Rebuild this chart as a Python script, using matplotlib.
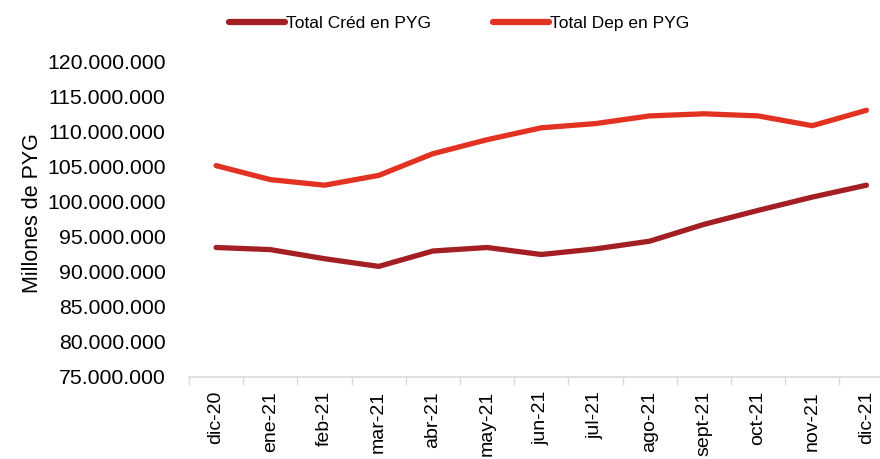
import matplotlib.pyplot as plt
from matplotlib.ticker import FuncFormatter

plt.rcParams['font.family'] = ['Liberation Sans', 'DejaVu Sans']

meses = ['dic-20', 'ene-21', 'feb-21', 'mar-21', 'abr-21', 'may-21', 'jun-21',
         'jul-21', 'ago-21', 'sept-21', 'oct-21', 'nov-21', 'dic-21']
cred = [93.5, 93.2, 91.9, 90.8, 93.0, 93.5, 92.5, 93.3, 94.4, 96.8, 98.8, 100.7, 102.4]
dep = [105.2, 103.2, 102.4, 103.8, 106.9, 108.9, 110.6, 111.2, 112.3, 112.6, 112.3, 110.9, 113.1]
cred = [v * 1e6 for v in cred]
dep = [v * 1e6 for v in dep]

fig = plt.figure(figsize=(8.8, 4.59), dpi=100)
ax = fig.add_axes([189 / 880, (459 - 377) / 459, 691 / 880, 315 / 459])

x = range(len(meses))
ax.plot(x, cred, color='#A31F24', lw=3.8, solid_capstyle='round', label='Total Créd en PYG')
ax.plot(x, dep, color='#E23222', lw=3.8, solid_capstyle='round', label='Total Dep en PYG')

ax.set_ylim(75e6, 120e6)
ax.set_yticks([75e6 + 5e6 * i for i in range(10)])
ax.yaxis.set_major_formatter(FuncFormatter(lambda v, p: f'{v:,.0f}'.replace(',', '.')))
ax.tick_params(axis='y', length=0, labelsize=15.3, pad=17)

ax.set_xticks(list(x))
ax.set_xticklabels(meses, rotation=90)
ax.set_xticks([i - 0.5 for i in range(14)], minor=True)
ax.set_xlim(-0.5, 12.25)
ax.tick_params(axis='x', which='major', length=0, labelsize=14, pad=10)
ax.tick_params(axis='x', which='minor', length=6, color='#D9D9D9', width=1)

for s in ['top', 'right', 'left']:
    ax.spines[s].set_visible(False)
ax.spines['bottom'].set_color('#D9D9D9')
ax.spines['bottom'].set_linewidth(1.2)

ax.set_ylabel('Millones de PYG', fontsize=15.5, labelpad=1)
ax.yaxis.set_label_coords(-0.212, 0.52)

leg = fig.legend(loc='upper center', bbox_to_anchor=(0.522, 1.0), ncol=2, frameon=False,
                 fontsize=12.5, handlelength=3.2, handletextpad=0.1, columnspacing=3.55)
for h in leg.get_lines():
    h.set_linewidth(4.5)

fig.savefig('out.png', dpi=100)
